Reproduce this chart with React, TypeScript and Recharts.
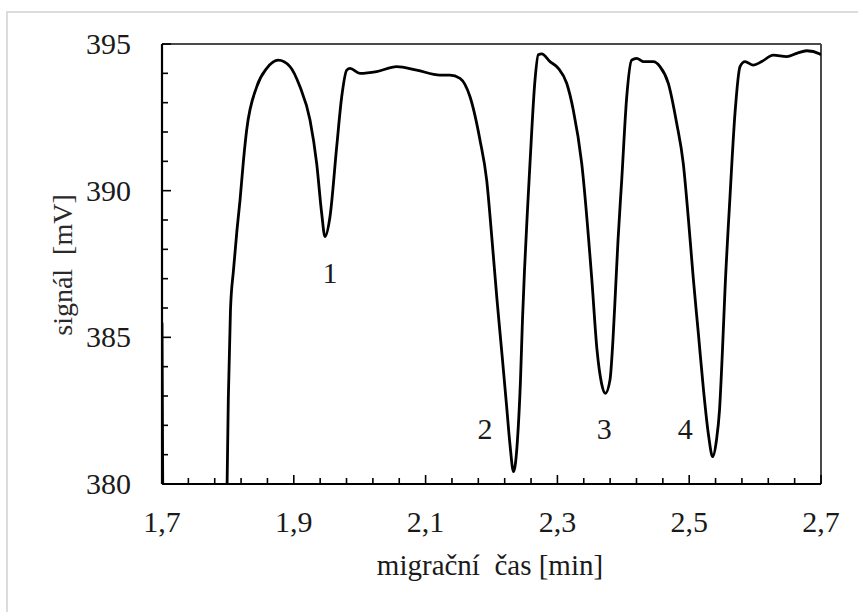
import React from 'react';
import { LineChart, Line, XAxis, YAxis, ReferenceLine, ReferenceDot } from 'recharts';

const time = [
  1.7975, 1.8006, 1.8039, 1.8085, 1.8138, 1.8184, 1.8237, 1.8285, 1.8437, 1.8589,
  1.8765, 1.8942, 1.9094, 1.9246, 1.9347, 1.9423, 1.9473, 1.9549, 1.9651, 1.9727,
  1.9803, 1.9853, 2.0005, 2.0258, 2.0561, 2.0865, 2.1218, 2.137, 2.1522, 2.1674,
  2.1825, 2.1927, 2.2008, 2.2084, 2.2160, 2.2228, 2.2281, 2.2334, 2.2394, 2.244,
  2.247, 2.2501, 2.2546, 2.2584, 2.266, 2.271, 2.2762, 2.2888, 2.3014, 2.3141,
  2.3241, 2.3369, 2.3521, 2.3601, 2.3669, 2.3728, 2.3798, 2.3843, 2.3882, 2.392,
  2.3976, 2.4052, 2.4127, 2.4203, 2.4303, 2.4455, 2.4557, 2.4683, 2.481, 2.491,
  2.4989, 2.5062, 2.5141, 2.5217, 2.5293, 2.5356, 2.5414, 2.546, 2.5505, 2.5543,
  2.5619, 2.5695, 2.5771, 2.5847, 2.5973, 2.61, 2.6276, 2.648, 2.6631, 2.6783,
  2.6985, 2.7,
];
const signal = [
  378.0, 382.86, 385.93, 387.3, 388.66, 389.68, 391.05, 392.07, 393.54, 394.17,
  394.45, 394.23, 393.54, 392.41, 390.93, 389.23, 388.43, 389.11, 391.5, 393.2,
  394.11, 394.17, 394.0, 394.06, 394.23, 394.11, 393.94, 393.94, 393.83, 393.2,
  391.73, 390.36, 388.32, 386.27, 384.4, 382.69, 381.33, 380.42, 381.5, 383.55,
  385.59, 387.3, 389.34, 390.93, 393.77, 394.63, 394.66, 394.4, 394.17, 393.66,
  392.75, 390.93, 387.01, 384.57, 383.44, 383.09, 383.55, 384.91, 386.61, 388.32,
  390.36, 393.2, 394.45, 394.51, 394.4, 394.4, 394.23, 393.66, 392.3, 390.93,
  389.0, 387.01, 385.08, 383.21, 381.67, 380.93, 381.5, 382.52, 384.57, 386.61,
  389.79, 392.64, 394.23, 394.4, 394.28, 394.4, 394.62, 394.57, 394.68, 394.77,
  394.66, 394.62,
];

const edgeTime = [1.7, 1.7012, 1.7015];
const edgeSignal = [385.5, 379.5, 378.0];

const xMajorTicks = [1.7, 1.9, 2.1, 2.3, 2.5, 2.7];
const xAllTicks = [
  1.7, 1.74, 1.78, 1.82, 1.86, 1.9, 1.94, 1.98, 2.02, 2.06, 2.1, 2.14, 2.18,
  2.22, 2.26, 2.3, 2.34, 2.38, 2.42, 2.46, 2.5, 2.54, 2.58, 2.62, 2.66, 2.7,
];
const yMajorTicks = [380, 385, 390, 395];
const yAllTicks = [380, 381, 382, 383, 384, 385, 386, 387, 388, 389, 390, 391, 392, 393, 394, 395];

const peakNames = ['1', '2', '3', '4'];
const peakLabelTime = [1.955, 2.19, 2.371, 2.494];
const peakLabelSignal = [387.2, 381.9, 381.9, 381.9];

const mainData = time.map((t, i) => ({ t, v: signal[i] }));
const edgeData = edgeTime.map((t, i) => ({ t, v: edgeSignal[i] }));

const FONT = '"Liberation Serif", "Times New Roman", serif';
const TEXT = '#1a1a1a';

const isMajor = (list: number[], v: number) => list.some((m) => Math.abs(m - v) < 1e-6);

const XTick = (props: any) => {
  const { x, y, payload } = props;
  const v = payload.value as number;
  const major = isMajor(xMajorTicks, v);
  return (
    <g>
      <line x1={x} x2={x} y1={y} y2={y - (major ? 9 : 6)} stroke="#000" strokeWidth={1.6} />
      {major && (
        <text x={x} y={y + 48} textAnchor="middle" fontFamily={FONT} fontSize={30} fill={TEXT}>
          {v.toFixed(1).replace('.', ',')}
        </text>
      )}
    </g>
  );
};

const YTick = (props: any) => {
  const { x, y, payload } = props;
  const v = payload.value as number;
  const major = isMajor(yMajorTicks, v);
  return (
    <g>
      <line x1={x} x2={x + (major ? 9 : 6)} y1={y} y2={y} stroke="#000" strokeWidth={1.6} />
      {major && (
        <text x={x - 31} y={y + 10} textAnchor="end" fontFamily={FONT} fontSize={30} fill={TEXT}>
          {String(v)}
        </text>
      )}
    </g>
  );
};

export default function App() {
  return (
    <div style={{ position: 'absolute', left: 0, top: 0, width: 858, height: 612, background: '#fff', overflow: 'hidden' }}>
      <div
        style={{
          position: 'absolute',
          left: 6,
          top: 11,
          width: 852,
          height: 601,
          borderLeft: '2px solid #dcdcdc',
          borderTop: '2px solid #dcdcdc',
          boxSizing: 'border-box',
        }}
      />
      <div style={{ position: 'absolute', left: 0, top: 0 }}>
        <LineChart width={858} height={612} margin={{ top: 44, right: 37, left: 0, bottom: 0 }}>
          <XAxis
            dataKey="t"
            type="number"
            domain={[1.7, 2.7]}
            ticks={xAllTicks}
            interval={0}
            allowDataOverflow
            height={128}
            tickSize={0}
            tickMargin={0}
            tickLine={false}
            axisLine={{ stroke: '#000', strokeWidth: 2.2 }}
            tick={<XTick />}
            label={{
              content: () => (
                <text
                  x={490}
                  y={575}
                  textAnchor="middle"
                  fontFamily={FONT}
                  fontSize={29}
                  fill={TEXT}
                  style={{ whiteSpace: 'pre' }}
                >
                  {'migrační  čas [min]'}
                </text>
              ),
            }}
          />
          <YAxis
            dataKey="v"
            type="number"
            domain={[380, 395]}
            ticks={yAllTicks}
            interval={0}
            allowDataOverflow
            width={162}
            tickSize={0}
            tickMargin={0}
            tickLine={false}
            axisLine={{ stroke: '#000', strokeWidth: 2.2 }}
            tick={<YTick />}
            label={{
              content: () => (
                <text
                  x={62}
                  y={265}
                  transform="rotate(-90 62 265)"
                  textAnchor="middle"
                  dominantBaseline="central"
                  fontFamily={FONT}
                  fontSize={28}
                  fill="#2a2a2a"
                  style={{ whiteSpace: 'pre' }}
                >
                  {'signál  [mV]'}
                </text>
              ),
            }}
          />
          <ReferenceLine y={395} stroke="#4a4a4a" strokeWidth={2} />
          <ReferenceLine x={2.7} stroke="#4a4a4a" strokeWidth={2} />
          <Line
            data={edgeData}
            dataKey="v"
            type="linear"
            stroke="#000"
            strokeWidth={2.8}
            dot={false}
            isAnimationActive={false}
          />
          <Line
            data={mainData}
            dataKey="v"
            type="monotone"
            stroke="#000"
            strokeWidth={2.8}
            dot={false}
            isAnimationActive={false}
          />
          {peakNames.map((name, i) => (
            <ReferenceDot
              key={name}
              x={peakLabelTime[i]}
              y={peakLabelSignal[i]}
              r={1}
              fill="none"
              stroke="none"
              label={{ value: name, position: 'center', fontSize: 30, fontFamily: FONT, fill: TEXT }}
            />
          ))}
        </LineChart>
      </div>
    </div>
  );
}
